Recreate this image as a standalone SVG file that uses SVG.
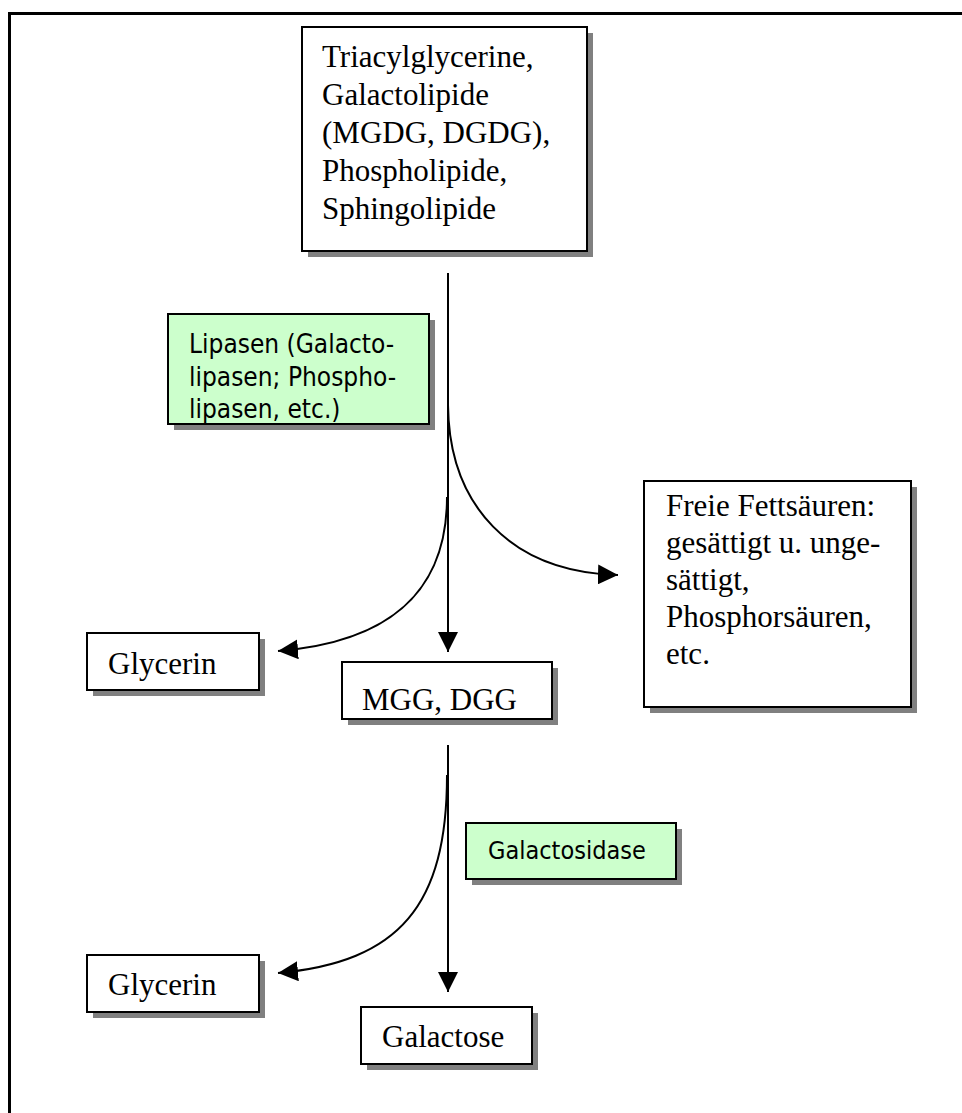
<svg xmlns="http://www.w3.org/2000/svg" width="962" height="1113" viewBox="0 0 962 1113">
  <style>
    .shadow { fill: #808080; }
    .box { fill: #ffffff; stroke: #000000; stroke-width: 2; }
    .enzyme { fill: #ccffcc; stroke: #000000; stroke-width: 2; }
    .serif { font-family: "Liberation Serif", "Times New Roman", serif; font-size: 31px; fill: #000000; }
    .sans { font-family: "DejaVu Sans Condensed", "DejaVu Sans", sans-serif; font-stretch: condensed; font-size: 26px; fill: #000000; }
    .link { fill: none; stroke: #000000; stroke-width: 2; }
  </style>
  <defs>
    <marker id="arrow" viewBox="0 0 20 20" refX="20" refY="10" markerWidth="20" markerHeight="20" markerUnits="userSpaceOnUse" orient="auto">
      <path d="M0,0 L20,10 L0,20 Z" fill="#000000"/>
    </marker>
  </defs>

  <!-- page frame -->
  <g id="frame">
    <line x1="8" y1="13.5" x2="962" y2="13.5" stroke="#000000" stroke-width="3"/>
    <line x1="9.5" y1="12" x2="9.5" y2="1113" stroke="#000000" stroke-width="3"/>
  </g>

  <!-- connectors -->
  <g id="connectors">
    <path class="link" d="M448,273 L448,652" marker-end="url(#arrow)"/>
    <path class="link" d="M448,405 C449,505 510,572 618,575" marker-end="url(#arrow)"/>
    <path class="link" d="M447,497 C447,592 390,642 278,651" marker-end="url(#arrow)"/>
    <path class="link" d="M448,745 L448,992" marker-end="url(#arrow)"/>
    <path class="link" d="M447,775 C447,905 400,962 278,973" marker-end="url(#arrow)"/>
  </g>

  <g id="lipids">
    <rect class="shadow" x="308" y="33" width="285" height="224"/>
    <rect class="box" x="302" y="27" width="285" height="224"/>
    <text class="serif">
      <tspan x="322" y="67">Triacylglycerine,</tspan>
      <tspan x="322" y="105">Galactolipide</tspan>
      <tspan x="322" y="143">(MGDG, DGDG),</tspan>
      <tspan x="322" y="181">Phospholipide,</tspan>
      <tspan x="322" y="219">Sphingolipide</tspan>
    </text>
  </g>

  <g id="lipasen">
    <rect class="shadow" x="174" y="320" width="261" height="110"/>
    <rect class="enzyme" x="168" y="314" width="261" height="110"/>
    <text class="sans">
      <tspan x="189" y="353">Lipasen (Galacto-</tspan>
      <tspan x="189" y="386">lipasen; Phospho-</tspan>
      <tspan x="189" y="418">lipasen, etc.)</tspan>
    </text>
  </g>

  <g id="fettsaeuren">
    <rect class="shadow" x="650" y="487" width="267" height="226"/>
    <rect class="box" x="644" y="481" width="267" height="226"/>
    <text class="serif">
      <tspan x="666" y="516">Freie Fettsäuren:</tspan>
      <tspan x="666" y="553">gesättigt u. unge-</tspan>
      <tspan x="666" y="590">sättigt,</tspan>
      <tspan x="666" y="627">Phosphorsäuren,</tspan>
      <tspan x="666" y="664">etc.</tspan>
    </text>
  </g>

  <g id="glycerin1">
    <rect class="shadow" x="93" y="639" width="172" height="57"/>
    <rect class="box" x="87" y="633" width="172" height="57"/>
    <text class="serif" x="108" y="674">Glycerin</text>
  </g>

  <g id="mgg-dgg">
    <rect class="shadow" x="348" y="668" width="210" height="57"/>
    <rect class="box" x="342" y="662" width="210" height="57"/>
    <text class="serif" x="362" y="710">MGG, DGG</text>
  </g>

  <g id="galactosidase">
    <rect class="shadow" x="472" y="829" width="210" height="56"/>
    <rect class="enzyme" x="466" y="823" width="210" height="56"/>
    <text class="sans" x="488" y="859" style="font-size:25px">Galactosidase</text>
  </g>

  <g id="glycerin2">
    <rect class="shadow" x="93" y="961" width="172" height="57"/>
    <rect class="box" x="87" y="955" width="172" height="57"/>
    <text class="serif" x="108" y="995">Glycerin</text>
  </g>

  <g id="galactose">
    <rect class="shadow" x="367" y="1013" width="171" height="57"/>
    <rect class="box" x="361" y="1007" width="171" height="57"/>
    <text class="serif" x="382" y="1047">Galactose</text>
  </g>
</svg>
